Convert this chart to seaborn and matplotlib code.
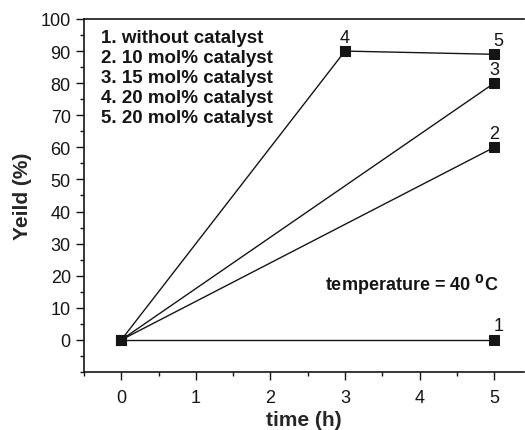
import numpy as np
import pandas as pd
import matplotlib
matplotlib.use('Agg')
import matplotlib.pyplot as plt
import seaborn as sns
from matplotlib.ticker import MultipleLocator

sns.set_style('ticks')
plt.rcParams['font.family'] = ['Liberation Sans', 'DejaVu Sans']

# 数据
series_ids = ['1', '2', '3', '4', '5']
time_1 = [0, 5]
yield_1 = [0, 0]
time_2 = [0, 5]
yield_2 = [0, 60]
time_3 = [0, 5]
yield_3 = [0, 80]
time_4 = [0, 3]
yield_4 = [0, 90]
time_5 = [3, 5]
yield_5 = [90, 89]
legend_lines = ['1. without catalyst', '2. 10 mol% catalyst', '3. 15 mol% catalyst',
                '4. 20 mol% catalyst', '5. 20 mol% catalyst']

frames = []
for sid, t, y in zip(series_ids, [time_1, time_2, time_3, time_4, time_5],
                     [yield_1, yield_2, yield_3, yield_4, yield_5]):
    frames.append(pd.DataFrame({'time': t, 'yield': y, 'series': sid}))
df = pd.concat(frames, ignore_index=True)

fig = plt.figure(figsize=(5.25, 4.31), dpi=100)
ax = fig.add_axes([0.16, 0.1346, 0.838, 0.819])

for sid in series_ids:
    d = df[df['series'] == sid]
    sns.lineplot(data=d, x='time', y='yield', ax=ax, color='#151515', lw=1,
                 marker='s', markersize=6.5, markeredgecolor='#151515')
    # 末端编号
    xe, ye = d['time'].iloc[-1], d['yield'].iloc[-1]
    dx = 3 if sid in ['1', '5'] else 0
    ax.annotate(sid, (xe, ye), xytext=(dx, 4), textcoords='offset points',
                ha='center', va='bottom', fontsize=13, color='#151515')

ax.set_xlim(-0.5, 5.4)
ax.set_ylim(-10, 100)
ax.xaxis.set_minor_locator(MultipleLocator(0.5))
ax.yaxis.set_minor_locator(MultipleLocator(5))
ax.set_xticks(np.arange(0, 6, 1))
ax.set_yticks(np.arange(0, 101, 10))
ax.tick_params(which='major', length=6, width=1, labelsize=13, colors='#151515')
ax.tick_params(axis='x', which='major', pad=6)
ax.tick_params(which='minor', length=3, width=1, colors='#151515')
ax.spines['right'].set_visible(False)
for s in ['left', 'bottom', 'top']:
    ax.spines[s].set_linewidth(1.2)
    ax.spines[s].set_color('#151515')

ax.set_xlabel('time (h)', fontsize=15, fontweight='bold', labelpad=3)
ax.set_ylabel('Yeild (%)', fontsize=15, fontweight='bold', labelpad=6)

for i, line in enumerate(legend_lines):
    ax.text(0.039, 0.949 - i * 0.057, line, transform=ax.transAxes, fontsize=13.5,
            fontweight='bold', va='center', ha='left', color='#151515')

ax.text(0.745, 0.25, r'temperature = 40 $^{\mathbf{0}}$C', transform=ax.transAxes,
        fontsize=13, fontweight='bold', ha='center', va='center', color='#151515')

fig.savefig('out.png', dpi=100)
